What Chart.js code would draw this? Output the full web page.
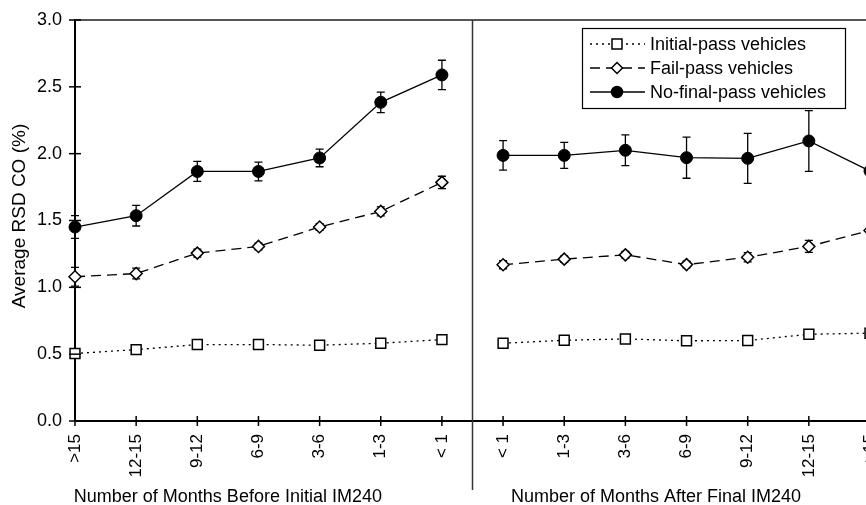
<!DOCTYPE html>
<html><head><meta charset="utf-8">
<script src="https://cdn.jsdelivr.net/npm/chart.js@4/dist/chart.umd.min.js"></script>
<style>
html,body{margin:0;padding:0;background:#fff;overflow:hidden;}
#wrap{width:900px;height:505px;}
</style></head><body>
<div id="wrap"><canvas id="c" width="900" height="505"></canvas></div>
<script>
// ---- data ----
const categories = ['>15','12-15','9-12','6-9','3-6','1-3','< 1','< 1','1-3','3-6','6-9','9-12','12-15','>15'];
const initialPass    = [0.505,0.534,0.572,0.572,0.567,0.582,0.609, 0.582,0.604,0.614,0.600,0.602,0.649,0.657];
const initialPassErr = [0.02,0.02,0.02,0.02,0.02,0.02,0.02, 0.02,0.02,0.02,0.02,0.02,0.02,0.02];
const failPass       = [1.079,1.103,1.256,1.306,1.451,1.568,1.785, 1.169,1.211,1.243,1.170,1.225,1.306,1.425];
const failPassErr    = [0.07,0.04,0.03,0.025,0.025,0.034,0.046, 0.03,0.025,0.025,0.025,0.035,0.045,0.05];
const noFinalPass    = [1.451,1.536,1.867,1.867,1.968,2.384,2.589, 1.987,1.987,2.025,1.970,1.965,2.095,1.870];
const noFinalPassErr = [0.085,0.077,0.075,0.07,0.066,0.077,0.11, 0.11,0.097,0.115,0.154,0.187,0.227,0.2];
const yTicks = [0,0.5,1,1.5,2,2.5,3];
const seriesNames = ['Initial-pass vehicles','Fail-pass vehicles','No-final-pass vehicles'];
const groupTitles = ['Number of Months Before Initial IM240','Number of Months After Final IM240'];
const yTitle = 'Average RSD CO (%)';
const splitAfter = 6;

const FONT = "'Liberation Sans', Arial, Helvetica, sans-serif";
const errs = [initialPassErr, failPassErr, noFinalPassErr];

function seg(dash){
  return {
    borderColor: ctx => ctx.p0DataIndex === splitAfter ? 'rgba(0,0,0,0)' : '#000',
    borderDash: () => dash
  };
}

const extras = {
  id: 'extras',
  beforeDatasetsDraw(chart){
    const {ctx, scales:{x, y}} = chart;
    ctx.save();
    ctx.strokeStyle = '#000';
    ctx.lineWidth = 1.3;
    chart.data.datasets.forEach((ds, di) => {
      ds.data.forEach((v, i) => {
        const e = errs[di][i];
        const px = x.getPixelForValue(i);
        const y1 = y.getPixelForValue(v + e), y2 = y.getPixelForValue(v - e);
        ctx.beginPath();
        ctx.moveTo(px, y1); ctx.lineTo(px, y2);
        ctx.moveTo(px - 4, y1); ctx.lineTo(px + 4, y1);
        ctx.moveTo(px - 4, y2); ctx.lineTo(px + 4, y2);
        ctx.stroke();
      });
    });
    ctx.restore();
  },
  afterDraw(chart){
    const {ctx, chartArea:a, scales:{x, y}} = chart;
    ctx.save();
    // top frame
    ctx.strokeStyle = '#555'; ctx.lineWidth = 2;
    ctx.beginPath(); ctx.moveTo(a.left, a.top); ctx.lineTo(a.right, a.top); ctx.stroke();
    // axis tick marks crossing the axes
    ctx.strokeStyle = '#000'; ctx.lineWidth = 1.5;
    yTicks.forEach(v => {
      const py = y.getPixelForValue(v);
      ctx.beginPath(); ctx.moveTo(a.left - 6, py); ctx.lineTo(a.left + 6, py); ctx.stroke();
    });
    categories.forEach((c, i) => {
      const px = x.getPixelForValue(i);
      ctx.beginPath(); ctx.moveTo(px, a.bottom - 5); ctx.lineTo(px, a.bottom + 5); ctx.stroke();
    });
    // group separator
    const sx = (x.getPixelForValue(splitAfter) + x.getPixelForValue(splitAfter + 1)) / 2;
    ctx.strokeStyle = '#333'; ctx.lineWidth = 1.5;
    ctx.beginPath(); ctx.moveTo(sx, a.top); ctx.lineTo(sx, 490); ctx.stroke();
    // group titles
    ctx.fillStyle = '#000';
    ctx.font = '18px ' + FONT;
    ctx.textAlign = 'center'; ctx.textBaseline = 'alphabetic';
    ctx.fillText(groupTitles[0], x.getPixelForValue(2.5), 502);
    ctx.fillText(groupTitles[1], x.getPixelForValue(9.5), 502);
    // y title
    ctx.save();
    ctx.translate(20, 216);
    ctx.rotate(-Math.PI / 2);
    ctx.textBaseline = 'middle';
    ctx.font = '19px ' + FONT;
    ctx.fillText(yTitle, 0, 0);
    ctx.restore();
    // legend
    const lx = 582, ly = 28, lw = 263, lh = 80;
    ctx.fillStyle = '#fff';
    ctx.fillRect(lx, ly, lw, lh);
    ctx.strokeStyle = '#000'; ctx.lineWidth = 1.2;
    ctx.strokeRect(lx + 0.5, ly + 0.5, lw, lh);
    const rows = [44, 68, 92];
    chart.data.datasets.forEach((ds, di) => {
      const ry = rows[di];
      ctx.strokeStyle = '#000'; ctx.lineWidth = ds.borderWidth;
      ctx.setLineDash(ds.borderDash || []);
      ctx.beginPath(); ctx.moveTo(590, ry); ctx.lineTo(645, ry); ctx.stroke();
      ctx.setLineDash([]);
      ctx.lineWidth = 1.5;
      const mx = 617;
      ctx.beginPath();
      if (ds.pointStyle === 'rect') {
        ctx.rect(mx - 5, ry - 5, 10, 10);
        ctx.fillStyle = '#fff';
      } else if (ds.pointStyle === 'rectRot') {
        ctx.moveTo(mx, ry - 5.5); ctx.lineTo(mx + 5.5, ry); ctx.lineTo(mx, ry + 5.5); ctx.lineTo(mx - 5.5, ry); ctx.closePath();
        ctx.fillStyle = '#fff';
      } else {
        ctx.arc(mx, ry, 5.5, 0, Math.PI * 2);
        ctx.fillStyle = '#000';
      }
      ctx.fill(); ctx.stroke();
      ctx.fillStyle = '#000';
      ctx.font = '18px ' + FONT;
      ctx.textAlign = 'left'; ctx.textBaseline = 'middle';
      ctx.fillText(seriesNames[di], 650, ry + 1);
    });
    ctx.restore();
  }
};

new Chart(document.getElementById('c'), {
  type: 'line',
  data: {
    labels: categories,
    datasets: [
      { label: seriesNames[0], data: initialPass, borderColor: '#000', borderWidth: 1.3, borderDash: [2,4],
        pointStyle: 'rect', pointRadius: 7, pointBackgroundColor: '#fff', pointBorderColor: '#000', pointBorderWidth: 1.5,
        segment: seg([2,4]), clip: false, tension: 0 },
      { label: seriesNames[1], data: failPass, borderColor: '#000', borderWidth: 1.3, borderDash: [10,6],
        pointStyle: 'rectRot', pointRadius: 6, pointBackgroundColor: '#fff', pointBorderColor: '#000', pointBorderWidth: 1.5,
        segment: seg([10,6]), clip: false, tension: 0 },
      { label: seriesNames[2], data: noFinalPass, borderColor: '#000', borderWidth: 1.3, borderDash: [],
        pointStyle: 'circle', pointRadius: 6, pointBackgroundColor: '#000', pointBorderColor: '#000', pointBorderWidth: 1,
        segment: seg([]), clip: false, tension: 0 }
    ]
  },
  options: {
    responsive: false,
    animation: false,
    events: [],
    layout: { padding: { top: 20, right: 30, left: 0, bottom: 0 } },
    plugins: { legend: { display: false }, tooltip: { enabled: false } },
    scales: {
      x: {
        type: 'category', offset: false,
        grid: { display: false, drawTicks: false },
        border: { display: true, color: '#000', width: 2 },
        ticks: { autoSkip: false, maxRotation: 90, minRotation: 90, padding: 13, color: '#000',
                 font: { family: FONT, size: 17 } },
        afterFit: s => { s.height = 84; s.paddingLeft = 0; s.paddingRight = 0; }
      },
      y: {
        min: 0, max: 3,
        grid: { display: false, drawTicks: false },
        border: { display: true, color: '#000', width: 2 },
        ticks: { stepSize: 0.5, padding: 13, color: '#000', font: { family: FONT, size: 18 },
                 callback: v => Number(v).toFixed(1) },
        afterFit: s => { s.width = 75; s.paddingTop = 0; s.paddingBottom = 0; }
      }
    }
  },
  plugins: [extras]
});
</script>
</body></html>
